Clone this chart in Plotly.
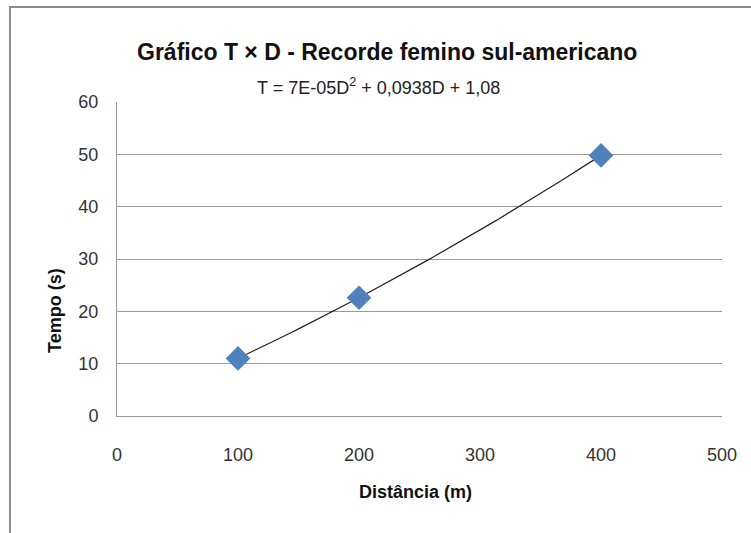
import numpy as np
import plotly.graph_objects as go

# Women's South American records: distance (m) vs time (s)
distancia = [100, 200, 400]
tempo = [11.0, 22.6, 49.8]

x_ticks = [0, 100, 200, 300, 400, 500]
y_ticks = [0, 10, 20, 30, 40, 50, 60]

titulo = "Gráfico T × D - Recorde femino sul-americano"
equacao = "T = 7E-05D<sup>2</sup> + 0,0938D + 1,08"

# Second-order polynomial trendline through the data
coef = np.polyfit(distancia, tempo, 2)
xs = np.linspace(min(distancia), max(distancia), 100)
ys = np.polyval(coef, xs)

FONT = "Liberation Sans, Arial, sans-serif"
GRID = "#9a9a9a"

fig = go.Figure()
fig.add_trace(go.Scatter(x=xs, y=ys, mode="lines",
                         line=dict(color="#222222", width=1.2),
                         hoverinfo="skip", showlegend=False))
fig.add_trace(go.Scatter(x=distancia, y=tempo, mode="markers",
                         marker=dict(symbol="diamond", size=19, color="#4F81BD",
                                     line=dict(width=0)),
                         showlegend=False))

fig.update_layout(
    width=751, height=533,
    margin=dict(l=117, r=29, t=102, b=117),
    paper_bgcolor="white", plot_bgcolor="white",
    font=dict(family=FONT, size=18, color="#222222"),
    xaxis=dict(range=[0, 500], tickvals=x_ticks, showgrid=False,
               zeroline=False, showline=True, linecolor=GRID, linewidth=1,
               ticks="", ticklabelstandoff=22,
               tickfont=dict(size=18, color="#333333")),
    yaxis=dict(range=[0, 60], tickvals=y_ticks, showgrid=True,
               gridcolor=GRID, gridwidth=1, zeroline=False,
               showline=True, linecolor=GRID, linewidth=1, ticks="",
               ticklabelstandoff=14, tickfont=dict(size=18, color="#333333")),
    shapes=[
        # outer chart frame
        dict(type="rect", xref="paper", yref="paper",
             x0=-0.1769, x1=1.07, y0=-0.40, y1=1.3025,
             line=dict(color="#8c8c8c", width=2), fillcolor="rgba(0,0,0,0)",
             layer="below"),
    ],
    annotations=[
        dict(text="<b>" + titulo + "</b>", xref="paper", yref="paper",
             x=0.4455, y=1.159, showarrow=False, xanchor="center", yanchor="middle",
             font=dict(size=23, color="#111111", family=FONT)),
        dict(text=equacao, xref="paper", yref="paper",
             x=0.433, y=1.048, showarrow=False, xanchor="center", yanchor="middle",
             font=dict(size=18, color="#222222", family=FONT)),
        dict(text="<b>Tempo (s)</b>", xref="paper", yref="paper",
             x=-0.1025, y=0.3376, showarrow=False, textangle=-90,
             xanchor="center", yanchor="middle",
             font=dict(size=18, color="#111111", family=FONT)),
        dict(text="<b>Distância (m)</b>", xref="paper", yref="paper",
             x=0.494, y=-0.242, showarrow=False, xanchor="center", yanchor="middle",
             font=dict(size=18, color="#111111", family=FONT)),
    ],
)

fig.write_html("out.html")
